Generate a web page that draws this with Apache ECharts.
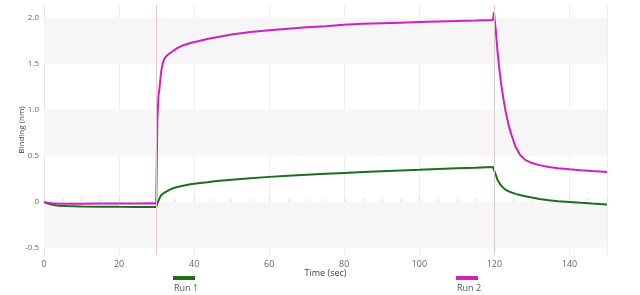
<!DOCTYPE html>
<html><head><meta charset="utf-8">
<script src="https://cdn.jsdelivr.net/npm/echarts@6/dist/echarts.min.js"></script>
<style>html,body{margin:0;padding:0;background:#fff}#c{width:640px;height:295px}</style>
</head><body><div id="c"></div>
<script>
const time = [0,1,2,3,4,6,8,10,15,20,25,29,29.9,30.2,30.5,30.8,31.2,31.6,32,32.6,33.4,34.4,35.5,37,39,41,43.5,46,50,55,60,65,70,75,80,85,90,95,100,105,110,115,119.6,119.9,120.1,120.4,120.8,121.3,121.8,122.4,123,123.8,124.6,125.6,126.8,128.2,130,132,134.5,137,140,143,146,150];
const run1 = [-0.005,-0.02,-0.03,-0.038,-0.043,-0.048,-0.05,-0.052,-0.054,-0.056,-0.057,-0.058,-0.058,-0.02,0.01,0.04,0.07,0.085,0.097,0.11,0.128,0.146,0.16,0.174,0.19,0.2,0.212,0.225,0.24,0.256,0.27,0.282,0.293,0.303,0.313,0.322,0.331,0.34,0.347,0.355,0.363,0.37,0.378,0.38,0.36,0.29,0.24,0.205,0.175,0.15,0.13,0.113,0.1,0.085,0.072,0.06,0.045,0.03,0.016,0.006,-0.003,-0.012,-0.02,-0.03];
const run2 = [-0.005,-0.012,-0.018,-0.02,-0.022,-0.022,-0.022,-0.022,-0.021,-0.02,-0.02,-0.018,-0.02,0.9,1.15,1.25,1.41,1.5,1.55,1.585,1.612,1.64,1.67,1.70,1.727,1.745,1.77,1.79,1.818,1.845,1.866,1.882,1.897,1.91,1.925,1.935,1.942,1.948,1.954,1.96,1.966,1.972,1.978,2.06,1.97,1.85,1.65,1.45,1.28,1.12,0.98,0.83,0.72,0.6,0.51,0.455,0.42,0.398,0.378,0.363,0.352,0.342,0.333,0.322];
const seriesNames = ['Run 1','Run 2'];
const yTicks = [-0.5,0,0.5,1,1.5,2];
const bands = [[1.5,2.0],[0.5,1.0],[-0.5,0]];
const eventTimes = [30,120];

const chart = echarts.init(document.getElementById('c'));
const pairs = a => time.map((t,i)=>[t,a[i]]);
const legendCommon = {
  icon:'rect', itemWidth:22, itemHeight:4, selectedMode:false, formatter:()=>'',
  textStyle:{fontSize:1}, padding:0, itemGap:0
};
const labelStyle = {fill:'#555', fontSize:9, fontFamily:'Open Sans', textAlign:'center'};
chart.setOption({
  animation:false,
  grid:{left:44, right:33, top:5, bottom:40, outerBoundsMode:'none', containLabel:false},
  legend:[
    Object.assign({data:[seriesNames[0]], left:173, top:276}, legendCommon),
    Object.assign({data:[seriesNames[1]], left:456, top:276}, legendCommon)
  ],
  graphic:[
    {type:'text', left:174, top:284, style:Object.assign({text:seriesNames[0]}, labelStyle)},
    {type:'text', left:457, top:284, style:Object.assign({text:seriesNames[1]}, labelStyle)}
  ],
  xAxis:{
    type:'value', min:0, max:150, interval:20,
    name:'Time (sec)', nameLocation:'middle', nameGap:14, nameMoveOverlap:false,
    nameTextStyle:{color:'#444', fontSize:9, fontFamily:'Open Sans'},
    axisLine:{show:false},
    axisTick:{show:true, inside:true, length:4, lineStyle:{color:'#ddd'}},
    minorTick:{show:true, splitNumber:4, length:3, lineStyle:{color:'#ddd'}},
    axisLabel:{color:'#666', fontSize:9, fontFamily:'Open Sans', margin:5, showMaxLabel:false},
    splitLine:{show:true, lineStyle:{color:'#efefef'}}
  },
  yAxis:{
    type:'value', min:-0.58, max:2.14,
    name:'Binding (nm)', nameLocation:'middle', nameGap:18, nameMoveOverlap:false,
    nameTextStyle:{color:'#444', fontSize:8, fontFamily:'Open Sans'},
    axisLine:{show:true, lineStyle:{color:'#e6e6e6'}},
    axisTick:{show:false},
    axisLabel:{color:'#666', fontSize:8, fontFamily:'Open Sans', margin:5,
      customValues:yTicks, formatter:v => v===0 ? '0' : v.toFixed(1)},
    splitLine:{show:false}
  },
  series:[
    {name:seriesNames[0], type:'line', data:pairs(run1), showSymbol:false, symbol:'none',
      lineStyle:{color:'#1e6e1e', width:2}, itemStyle:{color:'#1e6e1e'}, z:3,
      markArea:{silent:true, itemStyle:{color:'#f6f6f6'},
        data:bands.map(b=>[{yAxis:b[0]},{yAxis:b[1]}])},
      markLine:{silent:true, symbol:'none', label:{show:false},
        lineStyle:{color:'#dcc8d2', width:1, type:'solid'},
        data:eventTimes.map(t=>({xAxis:t}))}
    },
    {name:seriesNames[1], type:'line', data:pairs(run2), showSymbol:false, symbol:'none',
      lineStyle:{color:'#d21fc0', width:2}, itemStyle:{color:'#d21fc0'}, z:4}
  ]
});
</script></body></html>
